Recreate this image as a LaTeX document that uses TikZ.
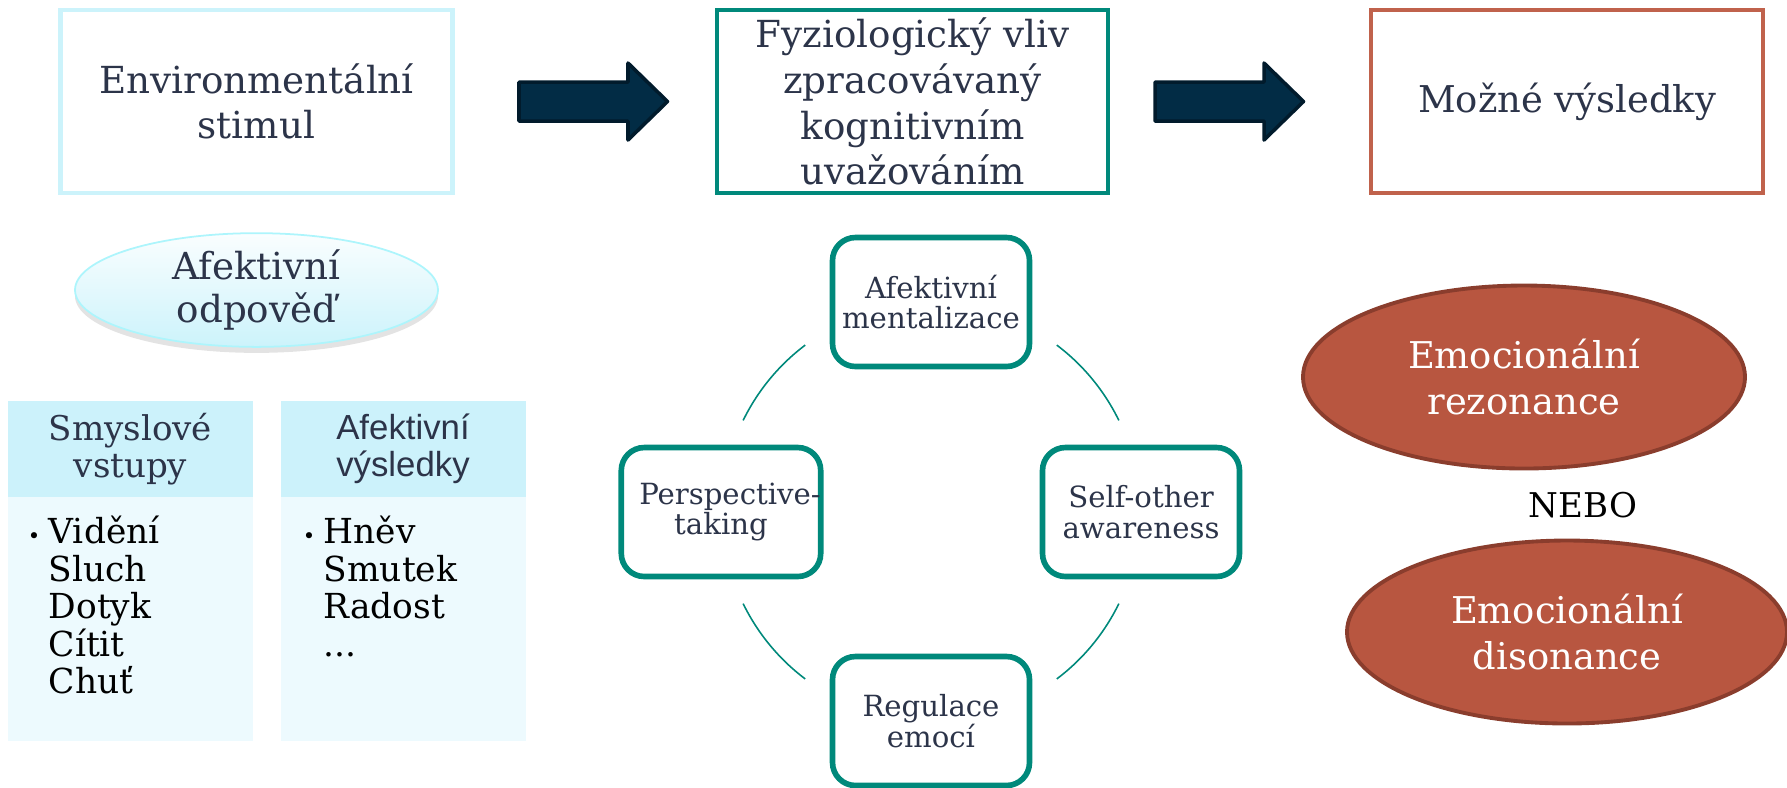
\documentclass[tikz,border=0pt]{standalone}
\usepackage{fontspec}
\setmainfont{DejaVu Serif}
\setsansfont{Liberation Sans}
\usetikzlibrary{positioning,shadows,calc,shapes.geometric}

\definecolor{txtdark}{HTML}{2C3449}
\definecolor{envcyan}{HTML}{CCF3FB}
\definecolor{ringteal}{HTML}{00897B}
\definecolor{rust}{HTML}{B85640}
\definecolor{rustdark}{HTML}{8A3D2D}
\definecolor{rustline}{HTML}{C0624C}
\definecolor{navy}{HTML}{022C45}
\definecolor{navydark}{HTML}{011B2C}
\definecolor{headfill}{HTML}{CCF2FB}
\definecolor{bodyfill}{HTML}{EDFAFE}

\tikzset{
  topbox/.style={draw, line width=1.2pt, minimum width=39.2mm, minimum height=18.3mm,
    inner sep=0pt, align=center, text=txtdark, font=\fontsize{10.6}{13}\selectfont},
  ringbox/.style={draw=ringteal, line width=1.6pt, rounded corners=2.3mm,
    minimum width=19.7mm, minimum height=12.9mm, inner sep=0pt, align=center,
    text=txtdark, font=\fontsize{8.3}{8.8}\selectfont},
  ringarc/.style={ringteal, line width=0.45pt},
  blockarr/.style={fill=navy, draw=navydark, line width=1pt, line join=round},
  emo/.style={ellipse, draw=rustdark, fill=rust, line width=1.1pt, minimum width=44.2mm,
    minimum height=18.3mm, inner sep=0pt, align=center, text=white,
    font=\fontsize{10.5}{13.1}\selectfont},
  listbody/.style={fill=bodyfill, minimum width=24.5mm, minimum height=34mm, inner sep=0pt},
  listhead/.style={fill=headfill, minimum width=24.5mm, minimum height=9.6mm, inner sep=0pt,
    align=center, text=txtdark},
  item/.style={anchor=base west, inner sep=0pt, font=\fontsize{9.8}{10.7}\selectfont},
  bulletdot/.style={anchor=base east, inner sep=0pt, font=\fontsize{6}{6}\selectfont}
}

\begin{document}
\begin{tikzpicture}[x=1mm,y=1mm]
	\useasboundingbox (0,0) rectangle (178.7,-78.7);

	% top row
	\node (env) [topbox, draw=envcyan, line width=1.4pt] at (25.65,-10.15) {Environmentální\\stimul};
	\node (fyz) [topbox, draw=ringteal, minimum width=39.1mm] at (91.25,-10.15) {Fyziologický vliv\\zpracovávaný\\kognitivním\\uvažováním};
	\node (mozne) [topbox, draw=rustline, font=\fontsize{10.5}{12}\selectfont] at (156.7,-10.15) {Možné výsledky};

	\foreach \ax in {51.9,115.5}
		\draw [blockarr] (\ax,-8.2) -- ++(10.9,0) -- ++(0,1.9) -- ++(3.95,-3.85) -- ++(-3.95,-3.85) -- ++(0,1.9) -- ++(-10.9,0) -- cycle;

	% left column
	\node (odp) [ellipse, draw=envcyan!85!cyan, line width=0.5pt, top color=white!90!envcyan, bottom color=envcyan,
		minimum width=36.3mm, minimum height=11mm, inner sep=0pt, align=center, text=txtdark,
		font=\fontsize{10.6}{12.2}\selectfont,
		drop shadow={shadow xshift=0mm, shadow yshift=-0.6mm, opacity=0.22}] at (25.65,-29) {Afektivní\\odpověď};

	\node (sv) [listbody] at (13.05,-57.1) {};
	\node (svh) [listhead, anchor=north, font=\fontsize{9.7}{10.5}\selectfont] at (sv.north) {Smyslové\\vstupy};
	\node (av) [listbody] at (40.3,-57.1) {};
	\node (avh) [listhead, anchor=north, font=\sffamily\fontsize{9.9}{10.5}\selectfont] at (av.north) {Afektivní\\výsledky};

	\foreach \t [count=\i] in {Vidění,Sluch,Dotyk,Cítit,Chuť}
		\node (s\i) [item] at (4.8,{-54.35-3.75*(\i-1)}) {\t};
	\foreach \t [count=\i] in {Hněv,Smutek,Radost}
		\node (a\i) [item] at (32.3,{-54.35-3.75*(\i-1)}) {\t};
	\node (a4) [item] at (32.3,-65.6) {...};
	\node (bs) [bulletdot] at ([xshift=-0.7mm]s1.base west) {•};
	\node (ba) [bulletdot] at ([xshift=-0.7mm]a1.base west) {•};

	% ring in the middle
	\coordinate (ring) at (93.1,-51.2);
	\node (ment) [ringbox] at (93.1,-30.2) {Afektivní\\mentalizace};
	\node (persp) [ringbox] at (72.1,-51.2) {\hspace*{1.8mm}Perspective-\\taking};
	\node (self) [ringbox] at (114.1,-51.2) {Self-other\\awareness};
	\node (reg) [ringbox] at (93.1,-72.1) {Regulace\\emocí};
	\foreach \a in {26,127,206,307}
		\draw [ringarc] ($(ring)+(\a:20.9)$) arc[start angle=\a, delta angle=27, radius=20.9];

	% right column
	\node (rez) [emo] at (152.4,-37.7) {Emocionální\\rezonance};
	\node (nebo) [font=\fontsize{9.7}{12}\selectfont] at (158.3,-50.5) {NEBO};
	\node (dis) [emo, minimum width=44mm] at (156.7,-63.2) {Emocionální\\disonance};

\end{tikzpicture}
\end{document}
